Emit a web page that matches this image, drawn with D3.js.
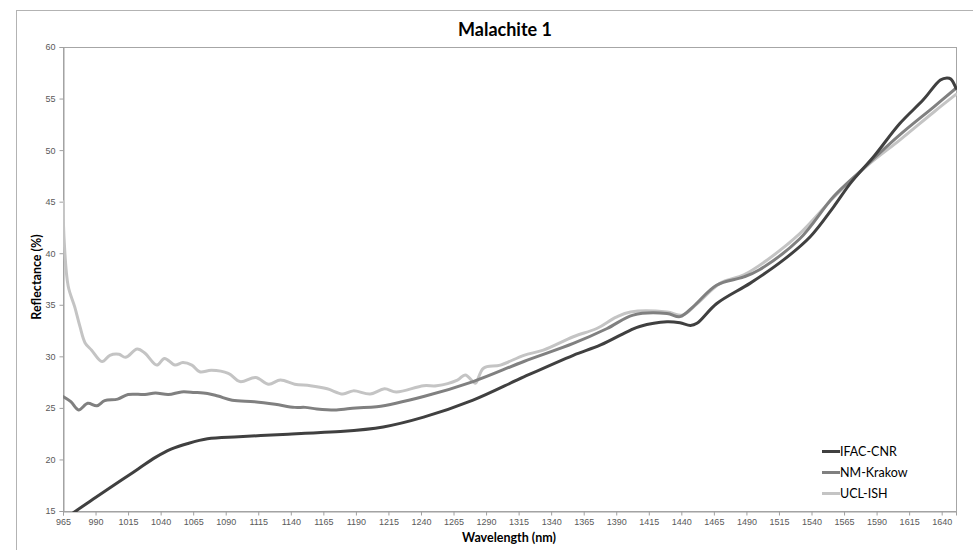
<!DOCTYPE html>
<html>
<head>
<meta charset="utf-8">
<script src="https://cdn.jsdelivr.net/npm/d3@7"></script>
<style>
html,body{margin:0;padding:0;background:#fff;}
svg{display:block;}
</style>
</head>
<body>
<svg id="chart" width="973" height="550"></svg>
<script>
// ---- data ----
const seriesNames = ["IFAC-CNR", "NM-Krakow", "UCL-ISH"];
const seriesColors = ["#404040", "#808080", "#c4c4c4"];

const ifacNm  = [965,976,990,1010,1023,1036,1048,1061,1076,1100,1138,1151,1178,1211,1242,1280,1319,1357,1378,1401,1408,1429,1439,1447,1452,1467,1493,1518,1539,1557,1570,1588,1608,1626,1639,1644,1647,1651];
const ifacVal = [14.1,15.1,16.3,18.0,19.1,20.2,21.0,21.55,22.0,22.2,22.45,22.55,22.7,23.15,24.1,25.75,28.0,30.1,31.1,32.55,32.9,33.35,33.25,33.0,33.2,35.1,37.1,39.3,41.6,44.5,46.8,49.4,52.6,54.9,56.8,57.0,56.9,56.0];

const nmkNm  = [965,971,977,984,991,997,1007,1015,1028,1036,1046,1056,1066,1076,1084,1095,1112,1128,1143,1151,1160,1175,1190,1206,1242,1280,1319,1357,1383,1403,1429,1439,1449,1467,1488,1500,1531,1557,1577,1608,1634,1651];
const nmkVal = [26.1,25.6,24.8,25.45,25.2,25.7,25.85,26.3,26.3,26.45,26.3,26.55,26.5,26.4,26.15,25.75,25.6,25.35,25.05,25.05,24.9,24.8,25.0,25.1,26.1,27.55,29.5,31.25,32.7,34.0,34.15,33.85,34.8,36.9,37.7,38.4,41.4,45.5,47.9,51.5,54.2,56.0];

const uclNm  = [965,966,969,974,978,982,987,995,1001,1008,1013,1022,1028,1037,1043,1051,1057,1064,1070,1079,1092,1101,1113,1123,1132,1143,1155,1168,1180,1188,1201,1212,1221,1242,1252,1268,1274,1280,1282,1288,1301,1319,1334,1357,1375,1390,1401,1429,1441,1452,1470,1488,1506,1531,1557,1582,1608,1634,1651];
const uclVal = [45.0,41.0,36.8,34.8,32.9,31.3,30.6,29.5,30.1,30.2,29.9,30.7,30.3,29.15,29.8,29.15,29.4,29.15,28.5,28.65,28.35,27.55,27.95,27.3,27.7,27.3,27.15,26.85,26.35,26.65,26.35,26.85,26.55,27.15,27.15,27.7,28.2,27.55,27.4,28.85,29.15,30.1,30.6,31.9,32.7,33.8,34.3,34.3,34.0,35.1,37.1,37.9,39.35,41.9,45.4,48.4,51.0,53.7,55.4];

const xTicks = [965,990,1015,1040,1065,1090,1115,1140,1165,1190,1215,1240,1265,1290,1315,1340,1365,1390,1415,1440,1465,1490,1515,1540,1565,1590,1615,1640];
const yTicks = [15,20,25,30,35,40,45,50,55,60];
const titleText = "Malachite 1";
const xLabel = "Wavelength (nm)";
const yLabel = "Reflectance (%)";

// ---- layout ----
const svg = d3.select("#chart");
const L = 63, T = 47, R = 956, B = 511;
const x = d3.scaleLinear().domain([965, 1651]).range([L, R]);
const y = d3.scaleLinear().domain([15, 60]).range([B, T]);

// outer chart border (only top/left visible in frame)
svg.append("rect").attr("x", 16.5).attr("y", 10.5).attr("width", 1000).attr("height", 600)
  .attr("fill", "#fff").attr("stroke", "#b3b3b3").attr("stroke-width", 1);

// plot area border
svg.append("rect").attr("x", L + 0.5).attr("y", T + 0.5).attr("width", R - L).attr("height", B - T)
  .attr("fill", "none").attr("stroke", "#a6a6a6").attr("stroke-width", 1);

// axes
const tickFont = "'Liberation Sans', Arial, sans-serif";
const yAxis = svg.append("g").attr("transform", `translate(${L + 0.5},0)`)
  .call(d3.axisLeft(y).tickValues(yTicks).tickSize(4).tickPadding(4).tickFormat(d3.format("d")));
const xAxis = svg.append("g").attr("transform", `translate(0,${B + 0.5})`)
  .call(d3.axisBottom(x).tickValues(xTicks).tickSize(4).tickPadding(3).tickFormat(d3.format("d")));
[yAxis, xAxis].forEach(g => {
  g.select(".domain").attr("stroke", "#a0a0a0");
  g.selectAll(".tick line").attr("stroke", "#a0a0a0");
  g.selectAll(".tick text").attr("fill", "#595959").style("font-family", tickFont).style("font-size", "9px");
});

// clip
svg.append("clipPath").attr("id", "clip").append("rect")
  .attr("x", L).attr("y", T).attr("width", R - L + 1).attr("height", B - T + 1);

const line = d3.line().x(d => x(d[0])).y(d => y(d[1])).curve(d3.curveCatmullRom.alpha(0.5));
const series = [
  d3.zip(ifacNm, ifacVal),
  d3.zip(nmkNm, nmkVal),
  d3.zip(uclNm, uclVal)
];
const g = svg.append("g").attr("clip-path", "url(#clip)");
[2, 1, 0].forEach(i => {
  g.append("path").datum(series[i]).attr("d", line)
    .attr("fill", "none").attr("stroke", seriesColors[i]).attr("stroke-width", 3)
    .attr("stroke-linejoin", "round").attr("stroke-linecap", "round");
});

// titles
const labFont = "Lato, 'Open Sans', sans-serif";
svg.append("text").attr("x", 505).attr("y", 36).attr("text-anchor", "middle")
  .style("font-family", labFont).style("font-weight", "bold").style("font-size", "18px").attr("fill", "#000")
  .text(titleText);
svg.append("text").attr("x", 509).attr("y", 542).attr("text-anchor", "middle")
  .style("font-family", labFont).style("font-weight", "bold").style("font-size", "12.5px").attr("fill", "#000")
  .text(xLabel);
svg.append("text").attr("transform", "translate(41,277) rotate(-90)").attr("text-anchor", "middle")
  .style("font-family", labFont).style("font-weight", "bold").style("font-size", "12.5px").attr("fill", "#000")
  .text(yLabel);

// legend
const legY = [451.5, 472.5, 493.5];
seriesNames.forEach((n, i) => {
  svg.append("line").attr("x1", 822).attr("x2", 840).attr("y1", legY[i]).attr("y2", legY[i])
    .attr("stroke", seriesColors[i]).attr("stroke-width", 3);
  svg.append("text").attr("x", 840).attr("y", legY[i] + 4)
    .style("font-family", labFont).style("font-size", "12.5px").attr("fill", "#000").text(n);
});
</script>
</body>
</html>
